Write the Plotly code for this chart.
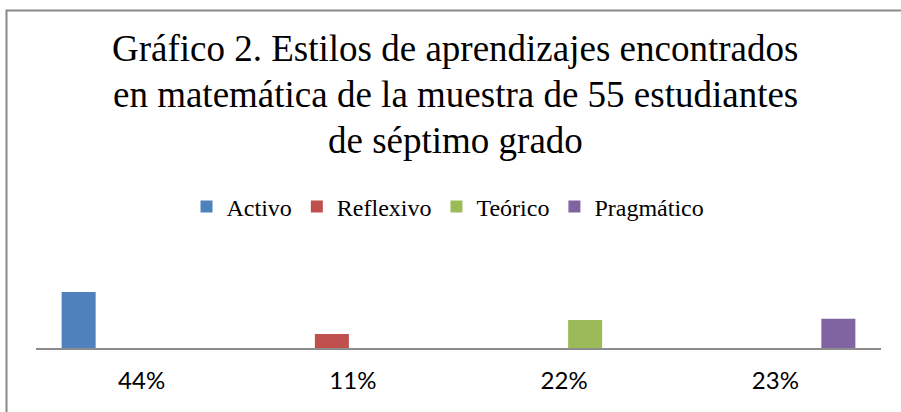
import plotly.graph_objects as go

categories = ["44%", "11%", "22%", "23%"]
series_names = ["Activo", "Reflexivo", "Teórico", "Pragmático"]
activo = [44, None, None, None]
reflexivo = [None, 11, None, None]
teorico = [None, None, 22, None]
pragmatico = [None, None, None, 23]
series_values = [activo, reflexivo, teorico, pragmatico]
colors = ["#4F81BD", "#C0504D", "#9BBB59", "#8064A2"]
title_lines = [
    "Gráfico 2. Estilos de aprendizajes encontrados",
    "en matemática de la muestra de 55 estudiantes",
    "de séptimo grado",
]

W, H = 901, 412
ML, MR, MT, MB = 36, 20, 235, 64
plot_w = W - ML - MR
plot_h = H - MT - MB
px_per_unit = 56 / 44.0
ymax = plot_h / px_per_unit

fig = go.Figure()
for name, vals, col in zip(series_names, series_values, colors):
    fig.add_trace(go.Bar(x=categories, y=vals, name=name, marker=dict(color=col, line=dict(width=0))))

def px2paper_x(px):
    return (px - ML) / plot_w

def px2paper_y(py):
    return (H - MB - py) / plot_h

fig.add_shape(type="rect", xref="paper", yref="paper",
              x0=px2paper_x(6.5), x1=px2paper_x(1000), y0=px2paper_y(600), y1=px2paper_y(10.5),
              line=dict(color="#898989", width=2), fillcolor="rgba(0,0,0,0)", layer="below")

TITLE_SIZE = 37
baselines = [59.5, 105.5, 151.5]
for line, bl in zip(title_lines, baselines):
    fig.add_annotation(text=line, xref="paper", yref="paper",
                       x=px2paper_x(455), y=px2paper_y(bl - 0.3 * TITLE_SIZE),
                       xanchor="center", yanchor="middle", showarrow=False,
                       font=dict(family="Liberation Serif", size=TITLE_SIZE, color="black"))

fig.update_layout(
    width=W, height=H,
    margin=dict(l=ML, r=MR, t=MT, b=MB, pad=0),
    paper_bgcolor="white", plot_bgcolor="white",
    barmode="group", bargap=0.205, bargroupgap=0.19,
    legend=dict(orientation="h", x=px2paper_x(448), xanchor="center", y=px2paper_y(207), yanchor="middle",
                xref="paper", yref="paper",
                font=dict(family="Liberation Serif", size=24, color="black"),
                itemclick=False, bgcolor="rgba(0,0,0,0)"),
    xaxis=dict(showline=True, linecolor="#8C8C8C", linewidth=2, showgrid=False, ticks="",
               ticklabelstandoff=10,
               tickfont=dict(family="Lato", size=24, color="black"), fixedrange=True),
    yaxis=dict(range=[0, ymax], visible=False, showgrid=False, zeroline=False, fixedrange=True),
    showlegend=True,
)

fig.write_html("out.html", config={"displayModeBar": False},
               post_script="document.body.style.margin='0';document.body.style.padding='0';document.body.style.overflow='hidden';")
